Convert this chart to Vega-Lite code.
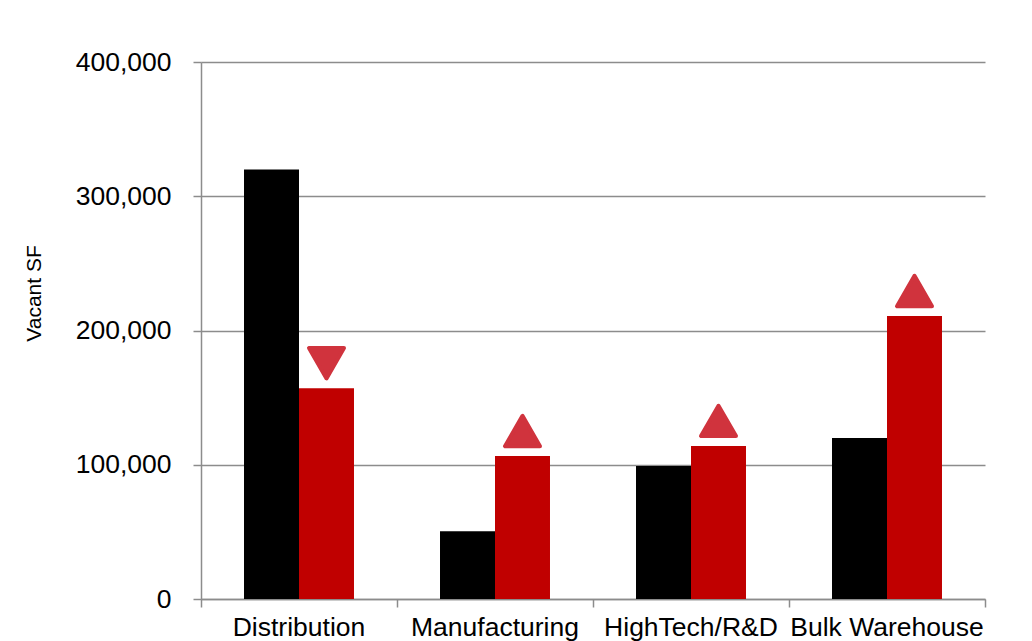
{
  "$schema": "https://vega.github.io/schema/vega-lite/v6.json",
  "width": 784,
  "height": 537,
  "autosize": {"type": "none"},
  "padding": {"left": 201, "top": 62, "right": 47, "bottom": 42},
  "background": "white",
  "config": {
    "view": {"stroke": null},
    "font": "Liberation Sans"
  },
  "data": {
    "values": [
      {"type": "Distribution", "period": "Prior", "vacant": 320000, "direction": "down"},
      {"type": "Distribution", "period": "Current", "vacant": 157000, "direction": "down"},
      {"type": "Manufacturing", "period": "Prior", "vacant": 50500, "direction": "up"},
      {"type": "Manufacturing", "period": "Current", "vacant": 106500, "direction": "up"},
      {"type": "HighTech/R&D", "period": "Prior", "vacant": 99000, "direction": "up"},
      {"type": "HighTech/R&D", "period": "Current", "vacant": 114000, "direction": "up"},
      {"type": "Bulk Warehouse", "period": "Prior", "vacant": 120000, "direction": "up"},
      {"type": "Bulk Warehouse", "period": "Current", "vacant": 210800, "direction": "up"}
    ]
  },
  "encoding": {
    "x": {
      "field": "type",
      "type": "nominal",
      "sort": null,
      "scale": {"paddingInner": 0, "paddingOuter": 0},
      "axis": {
        "title": null,
        "labelAngle": 0,
        "labelFontSize": 26.5,
        "labelColor": "black",
        "labelPadding": 7,
        "labelLimit": 0,
        "tickSize": 8,
        "tickColor": "#8c8c8c",
        "tickWidth": 1.5,
        "domainColor": "#8c8c8c",
        "domainWidth": 1.5,
        "bandPosition": 1,
        "tickExtra": true,
        "labelOverlap": false
      }
    },
    "xOffset": {
      "field": "period",
      "type": "nominal",
      "sort": ["Prior", "Current"],
      "scale": {"paddingInner": 0, "paddingOuter": 0.782}
    },
    "y": {
      "field": "vacant",
      "type": "quantitative",
      "scale": {"domain": [0, 400000], "nice": false},
      "axis": {
        "title": "Vacant SF",
        "titleFontSize": 21,
        "titleFontWeight": "normal",
        "titleColor": "black",
        "titlePadding": 31,
        "titleY": 231,
        "values": [0, 100000, 200000, 300000, 400000],
        "format": ",d",
        "labelFontSize": 26.5,
        "labelColor": "black",
        "labelPadding": 22,
        "tickSize": 8,
        "tickColor": "#8c8c8c",
        "tickWidth": 1.5,
        "domainColor": "#8c8c8c",
        "domainWidth": 1.5,
        "gridColor": "#8c8c8c",
        "gridWidth": 1.5,
        "gridOpacity": 1
      }
    }
  },
  "layer": [
    {
      "mark": {"type": "bar"},
      "encoding": {
        "color": {
          "field": "period",
          "type": "nominal",
          "scale": {"domain": ["Prior", "Current"], "range": ["#000000", "#c00000"]},
          "legend": null
        }
      }
    },
    {
      "transform": [{"filter": "datum.period === 'Current'"}],
      "mark": {
        "type": "point",
        "filled": true,
        "size": 1225,
        "yOffset": -25,
        "color": "#d0333d",
        "stroke": "#d0333d",
        "strokeWidth": 4,
        "strokeJoin": "round",
        "opacity": 1
      },
      "encoding": {
        "shape": {
          "field": "direction",
          "type": "nominal",
          "scale": {"domain": ["up", "down"], "range": ["triangle-up", "triangle-down"]},
          "legend": null
        }
      }
    }
  ]
}
